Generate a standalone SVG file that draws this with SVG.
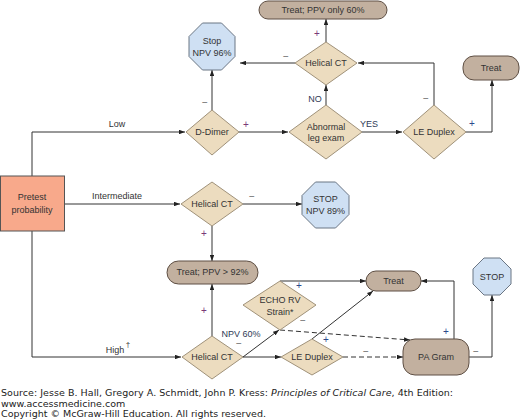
<svg xmlns="http://www.w3.org/2000/svg" width="520" height="420" viewBox="0 0 520 420">
<defs>
<marker id="arr" viewBox="0 0 8 6" refX="8" refY="3" markerWidth="6" markerHeight="4.5" markerUnits="userSpaceOnUse" orient="auto"><path d="M0,0 L8,3 L0,6 Z" fill="#222"/></marker>
<style>
.c{fill:none;stroke:#333;stroke-width:1}
.d{stroke-dasharray:5,3}
.dia{fill:#ecdcbf;stroke:#a0927a;stroke-width:1}
.pill{fill:#c2b09f;stroke:#5e4f44;stroke-width:1}
.oct{fill:#cfe0f3;stroke:#6b7684;stroke-width:1}
.box{fill:#f8a98b;stroke:#555;stroke-width:1}
text{font-family:"Liberation Sans",Arial,sans-serif;font-size:9px;fill:#333;text-anchor:middle}
.lb{fill:#2f3a55}
.p1{fill:#7a3a78;font-size:10px}
.p2{fill:#2c4a8c;font-size:10px}
.m{fill:#666;font-size:10px}
.f{font-family:"DejaVu Sans",Verdana,sans-serif;font-size:9.5px;fill:#222;text-anchor:start}
</style>
</defs>
<g id="connectors">
<path class="c" d="M32,176 V132 H185" marker-end="url(#arr)"/>
<path class="c" d="M32,231 V357 H181" marker-end="url(#arr)"/>
<path class="c" d="M64,204 H180" marker-end="url(#arr)"/>
<path class="c" d="M212,110 V70" marker-end="url(#arr)"/>
<path class="c" d="M239,132 H288" marker-end="url(#arr)"/>
<path class="c" d="M326,105 V85" marker-end="url(#arr)"/>
<path class="c" d="M326,42 V19" marker-end="url(#arr)"/>
<path class="c" d="M295,63 H240" marker-end="url(#arr)"/>
<path class="c" d="M362,132 H402" marker-end="url(#arr)"/>
<path class="c" d="M434,105 V63 H358" marker-end="url(#arr)"/>
<path class="c" d="M466,132 H492 V80" marker-end="url(#arr)"/>
<path class="c" d="M243,204 H302" marker-end="url(#arr)"/>
<path class="c" d="M212,226 V261" marker-end="url(#arr)"/>
<path class="c" d="M212,336 V284" marker-end="url(#arr)"/>
<path class="c" d="M243,357 L279,330" marker-end="url(#arr)"/>
<path class="c" d="M243,357 H281" marker-end="url(#arr)"/>
<path class="c" d="M280,281 H366" marker-end="url(#arr)"/>
<path class="c" d="M312,339 L373,291" marker-end="url(#arr)"/>
<path class="c d" d="M280,330 L410,340" marker-end="url(#arr)"/>
<path class="c d" d="M343,357 H403" marker-end="url(#arr)"/>
<path class="c" d="M454,339 V281 H421" marker-end="url(#arr)"/>
<path class="c" d="M469,357 H492 V295" marker-end="url(#arr)"/>
</g>
<g id="labels">
<text x="117" y="127">Low</text>
<text x="117" y="199">Intermediate</text>
<text x="115" y="353">High</text>
<text x="128" y="347" style="font-size:8px">†</text>
<text class="lb" x="315" y="102">NO</text>
<text class="lb" x="369" y="127">YES</text>
<text class="lb" x="241" y="337">NPV 60%</text>
<text class="p1" x="246" y="128">+</text>
<text class="m" x="205" y="106">−</text>
<text class="p1" x="317" y="37">+</text>
<text class="m" x="286" y="60">−</text>
<text class="m" x="426" y="102">−</text>
<text class="p2" x="472" y="127">+</text>
<text class="m" x="252" y="200">−</text>
<text class="p1" x="204" y="237">+</text>
<text class="p1" x="204" y="314">+</text>
<text class="m" x="239" y="347">−</text>
<text class="p2" x="299" y="289">+</text>
<text class="m" x="303" y="324">−</text>
<text class="p2" x="326" y="343">+</text>
<text class="m" x="366" y="355">−</text>
<text class="p2" x="446" y="335">+</text>
<text class="m" x="476" y="355">−</text>
</g>
<g id="pretest"><rect class="box" x="0.5" y="176" width="64" height="55"/><text x="32" y="200">Pretest</text><text x="32" y="213">probability</text></g>
<g id="ddimer"><polygon class="dia" points="212,110 239,132 212,155 186,132"/><text x="212" y="135">D-Dimer</text></g>
<g id="stop96"><polygon class="oct" points="202.5,23 221.5,23 235,36.5 235,56.5 221.5,70 202.5,70 189,56.5 189,36.5"/><text x="212" y="44">Stop</text><text x="212" y="56">NPV 96%</text></g>
<g id="abnormal"><polygon class="dia" points="326,105 362,132 326,159 289,132"/><text x="326" y="130">Abnormal</text><text x="326" y="141">leg exam</text></g>
<g id="helical1"><polygon class="dia" points="326,42 357,63 326,85 295,63"/><text x="326" y="66">Helical CT</text></g>
<g id="treat60"><rect class="pill" x="259" y="1" width="128" height="18" rx="9"/><text x="323" y="13">Treat; PPV only 60%</text></g>
<g id="leduplex1"><polygon class="dia" points="434,105 466,132 434,159 403,132"/><text x="434" y="135">LE Duplex</text></g>
<g id="treat1"><rect class="pill" x="463" y="56" width="56" height="24" rx="11"/><text x="491" y="71">Treat</text></g>
<g id="helical2"><polygon class="dia" points="212,182 243,204 212,226 181,204"/><text x="212" y="207">Helical CT</text></g>
<g id="stop89"><polygon class="oct" points="315.5,182 335.5,182 349,195.5 349,214.5 335.5,228 315.5,228 302,214.5 302,195.5"/><text x="325.5" y="202">STOP</text><text x="325.5" y="214">NPV 89%</text></g>
<g id="treat92"><rect class="pill" x="167" y="261" width="91" height="23" rx="11.5"/><text x="212.5" y="275">Treat; PPV &gt; 92%</text></g>
<g id="helical3"><polygon class="dia" points="212,336 243,357 212,379 182,357"/><text x="212" y="360">Helical CT</text></g>
<g id="echo"><polygon class="dia" points="280,281 316,305 280,330 243,305"/><text x="280" y="303">ECHO RV</text><text x="280" y="315">Strain*</text></g>
<g id="leduplex2"><polygon class="dia" points="312,339 343,357 312,375 281,357"/><text x="312" y="360">LE Duplex</text></g>
<g id="treat2"><rect class="pill" x="366" y="271" width="55" height="20" rx="10"/><text x="393.5" y="284">Treat</text></g>
<g id="pagram"><rect class="pill" x="403" y="339" width="66" height="36" rx="12"/><text x="436" y="360">PA Gram</text></g>
<g id="stop"><polygon class="oct" points="484,258 500,258 511,269 511,284 500,295 484,295 473,284 473,269"/><text x="492" y="280">STOP</text></g>
<g id="footer">
<text class="f" x="1" y="396" textLength="452" lengthAdjust="spacing">Source: Jesse B. Hall, Gregory A. Schmidt, John P. Kress: <tspan font-style="italic">Principles of Critical Care</tspan>, 4th Edition:</text>
<text class="f" x="1" y="407">www.accessmedicine.com</text>
<text class="f" x="1" y="417">Copyright © McGraw-Hill Education. All rights reserved.</text>
</g>
</svg>
